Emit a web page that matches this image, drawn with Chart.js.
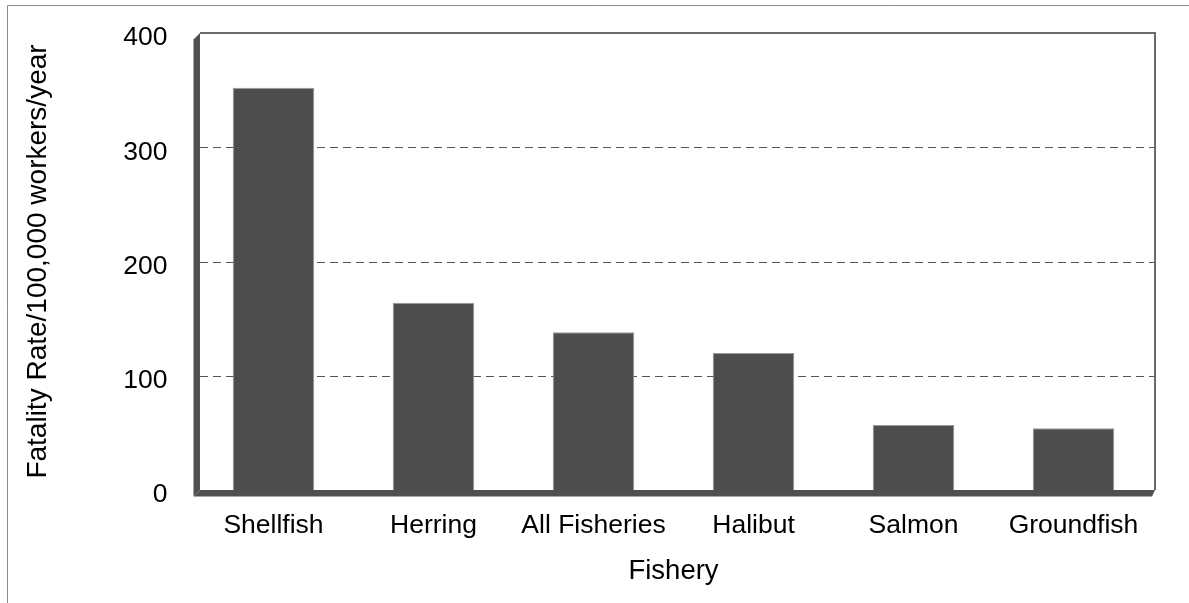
<!DOCTYPE html>
<html>
<head>
<meta charset="utf-8">
<script src="https://cdn.jsdelivr.net/npm/chart.js@4.4.1/dist/chart.umd.min.js"></script>
<style>
  html, body { margin: 0; padding: 0; background: #fff; }
  #wrap { width: 1189px; height: 603px; }
</style>
</head>
<body>
<div id="wrap"><canvas id="c" width="1189" height="603"></canvas></div>
<script>
const categories = ['Shellfish', 'Herring', 'All Fisheries', 'Halibut', 'Salmon', 'Groundfish'];
const fatalityRates = [352, 164, 138, 120, 57, 54];
const yTickValues = [0, 100, 200, 300, 400];
const xTitle = 'Fishery';
const yTitle = 'Fatality Rate/100,000 workers/year';

const FONT = "'Liberation Sans', Arial, sans-serif";
const DEPTH = 6.5;

const decor = {
  id: 'decor',
  beforeDraw(chart) {
    const ctx = chart.ctx;
    ctx.save();
    ctx.fillStyle = '#fff';
    ctx.fillRect(0, 0, chart.width, chart.height);
    ctx.strokeStyle = '#8a8a8a';
    ctx.lineWidth = 1;
    ctx.beginPath();
    ctx.moveTo(7.5, chart.height);
    ctx.lineTo(7.5, 5.5);
    ctx.lineTo(chart.width, 5.5);
    ctx.stroke();
    ctx.restore();
  },
  beforeDatasetsDraw(chart) {
    const ctx = chart.ctx;
    const ca = chart.chartArea;
    const y = chart.scales.y;
    const backL = ca.left + DEPTH;
    const backR = ca.right + 1.5;
    const top = y.getPixelForValue(400);
    const bot = y.getPixelForValue(0);
    ctx.save();
    ctx.strokeStyle = '#555';
    ctx.lineWidth = 1;
    ctx.setLineDash([8, 5]);
    yTickValues.forEach(v => {
      if (v === 0 || v === 400) return;
      const py = Math.round(y.getPixelForValue(v)) + 0.5;
      ctx.beginPath();
      ctx.moveTo(backL, py);
      ctx.lineTo(backR, py);
      ctx.stroke();
    });
    ctx.setLineDash([]);
    ctx.strokeStyle = '#6a6a6a';
    ctx.lineWidth = 2;
    ctx.beginPath();
    ctx.moveTo(backL, top);
    ctx.lineTo(backR, top);
    ctx.lineTo(backR, bot);
    ctx.stroke();
    ctx.fillStyle = '#505050';
    ctx.beginPath();
    ctx.moveTo(ca.left, top + DEPTH);
    ctx.lineTo(backL, top);
    ctx.lineTo(backL, bot);
    ctx.lineTo(ca.left, bot + DEPTH);
    ctx.closePath();
    ctx.fill();
    ctx.beginPath();
    ctx.moveTo(backL, bot);
    ctx.lineTo(backR, bot);
    ctx.lineTo(backR - 3, bot + DEPTH);
    ctx.lineTo(ca.left, bot + DEPTH);
    ctx.closePath();
    ctx.fill();
    ctx.restore();
  }
};

new Chart(document.getElementById('c'), {
  type: 'bar',
  data: {
    labels: categories,
    datasets: [{
      data: fatalityRates,
      backgroundColor: '#4d4d4d',
      borderColor: '#9a9a9a',
      borderWidth: 1,
      barPercentage: 0.51,
      categoryPercentage: 1
    }]
  },
  options: {
    responsive: false,
    devicePixelRatio: 1,
    animation: false,
    layout: { padding: { left: 0, top: 33, right: 35.5, bottom: 0 } },
    plugins: { legend: { display: false }, tooltip: { enabled: false } },
    scales: {
      x: {
        grid: { display: false, drawTicks: false },
        border: { display: false },
        ticks: { color: '#000', font: { family: FONT, size: 26.5 }, padding: 20, maxRotation: 0, autoSkip: false },
        title: { display: true, text: xTitle, color: '#000', font: { family: FONT, size: 27.5 }, padding: { top: 0, bottom: 15 } },
        afterFit(s) { s.height = 113; s.paddingLeft = 0; s.paddingRight = 0; }
      },
      y: {
        min: 0, max: 400,
        afterBuildTicks(s) { s.ticks = yTickValues.map(v => ({ value: v })); },
        grid: { display: false, drawTicks: false },
        border: { display: false },
        ticks: { color: '#000', font: { family: FONT, size: 26.5 }, padding: 26, labelOffset: 5 },
        title: { display: true, text: yTitle, color: '#000', font: { family: FONT, size: 28 }, padding: { top: 21, bottom: 0 } },
        afterFit(s) { s.width = 193.5; s.paddingTop = 0; s.paddingBottom = 0; }
      }
    }
  },
  plugins: [decor]
});
</script>
</body>
</html>
